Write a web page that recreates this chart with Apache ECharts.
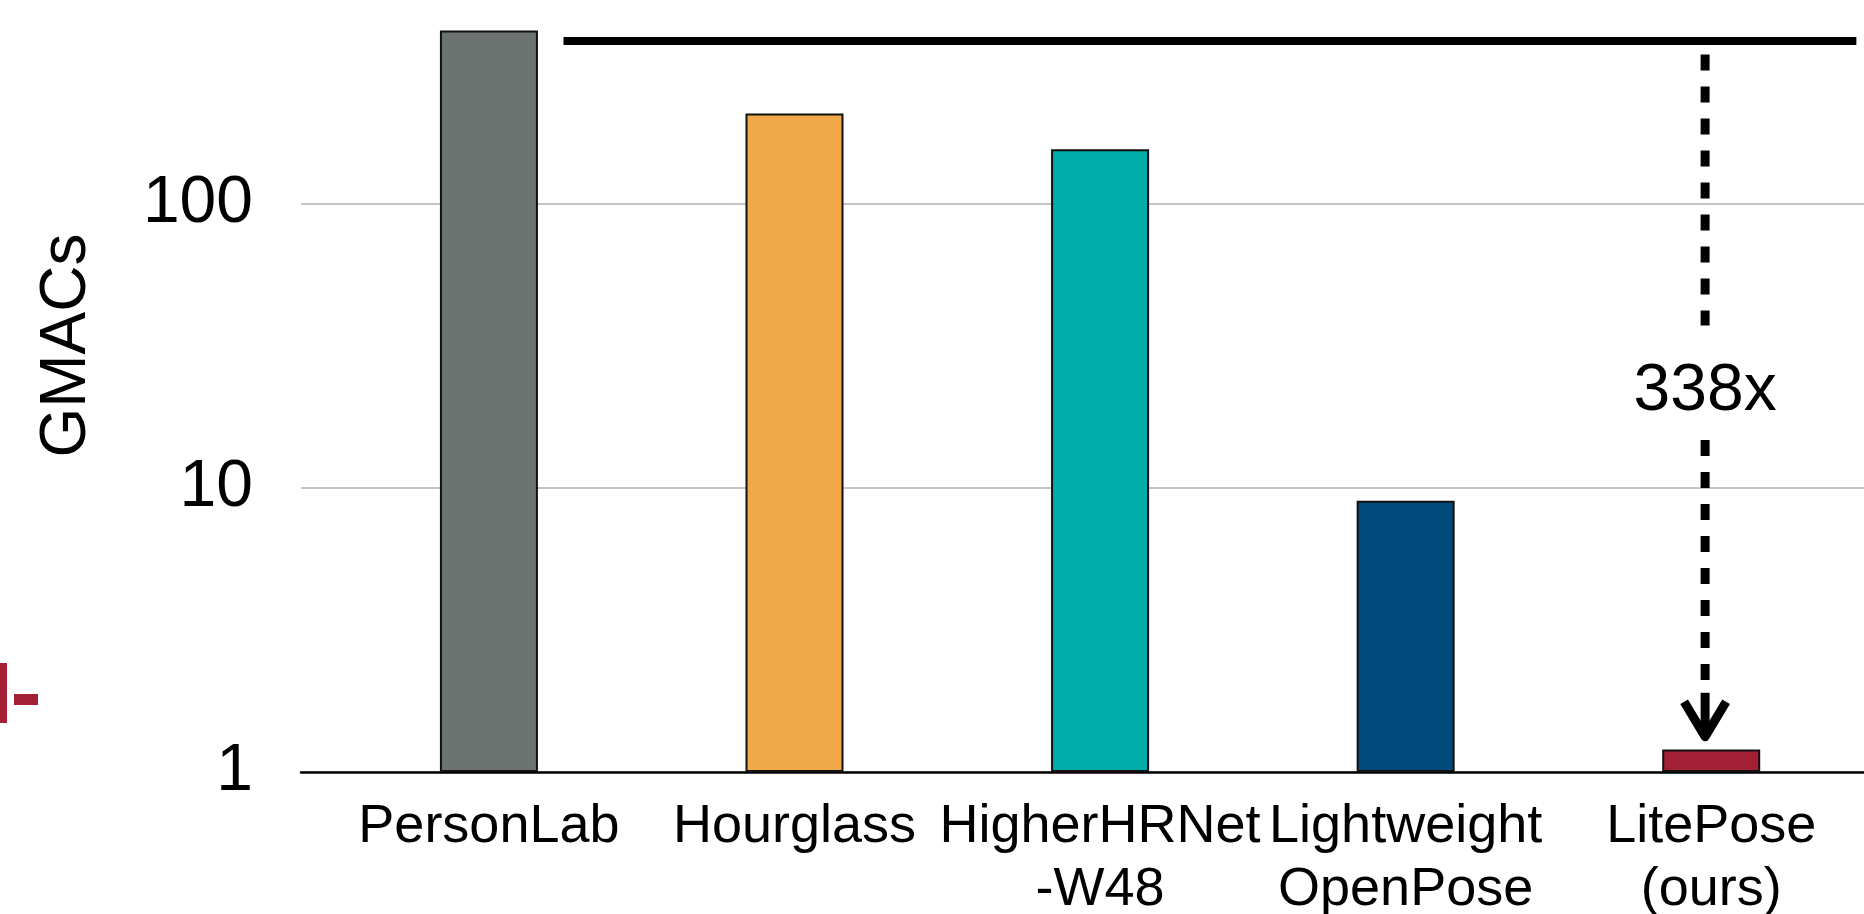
<!DOCTYPE html>
<html>
<head>
<meta charset="utf-8">
<script src="https://cdn.jsdelivr.net/npm/echarts@6/dist/echarts.min.js"></script>
<style>
  html, body { margin: 0; padding: 0; background: #fff; }
  #chart { width: 1864px; height: 914px; }
</style>
</head>
<body>
<div id="chart"></div>
<script>
// Model names and their compute cost (GMACs)
const categories = ['PersonLab', 'Hourglass', 'HigherHRNet\n-W48', 'Lightweight\nOpenPose', 'LitePose\n(ours)'];
const gmacs = [405.5, 206.9, 155.1, 9.0, 1.2];
const barColors = ['#6d7370', '#f0a848', '#00adaa', '#004b7c', '#a31f34'];
const speedupLabel = '338x';

// Annotation: horizontal rule at the baseline cost level and a dashed arrow
// pointing down to LitePose (values in axis units)
const ruleLevel = 372;
const ruleFrom = 0.244;
const ruleTo = 4.475;
const arrowX = 3.98;
const arrowTop = 334;
const arrowTip = 1.33;
const labelGapTop = 37.2;
const labelGapBottom = 14.7;
const labelLevel = 21.8;

const FONT = '"Liberation Sans", Arial, Helvetica, sans-serif';

const chart = echarts.init(document.getElementById('chart'), null, { renderer: 'canvas' });

const option = {
  backgroundColor: '#ffffff',
  animation: false,
  grid: { left: 301, right: 0, top: -81, bottom: 142, containLabel: false, outerBoundsMode: 'none' },
  xAxis: {
    type: 'value',
    min: -0.615,
    max: 4.5,
    axisLine: { show: true, onZero: false, lineStyle: { color: '#000', width: 2.5 } },
    axisTick: { show: false },
    splitLine: { show: false },
    axisLabel: {
      customValues: categories.map((_, i) => i),
      formatter: (v) => categories[Math.round(v)] || '',
      color: '#000',
      fontFamily: FONT,
      fontSize: 54,
      lineHeight: 63,
      margin: 24
    }
  },
  yAxis: {
    type: 'log',
    logBase: 10,
    min: 1,
    max: 1000,
    name: 'GMACs',
    nameLocation: 'middle',
    nameRotate: 90,
    nameGap: 202,
    nameMoveOverlap: false,
    nameTextStyle: { color: '#000', fontFamily: FONT, fontSize: 64 },
    axisLine: { show: false },
    axisTick: { show: false },
    axisLabel: { color: '#000', fontFamily: FONT, fontSize: 66, margin: 48 },
    splitLine: { show: true, lineStyle: { color: '#c4c4c4', width: 2 } }
  },
  graphic: [
    { type: 'rect', shape: { x: 0, y: 663, width: 7, height: 60 }, style: { fill: '#a31f34' } },
    { type: 'rect', shape: { x: 14, y: 694, width: 24, height: 11 }, style: { fill: '#a31f34' } }
  ],
  series: [
    {
      type: 'bar',
      barWidth: 98,
      data: gmacs.map((v, i) => ({
        value: [i, v],
        itemStyle: { color: barColors[i], borderColor: '#111', borderWidth: 2 }
      }))
    },
    {
      type: 'custom',
      clip: false,
      z: 5,
      data: [[arrowX, arrowTip]],
      renderItem: function (params, api) {
        const r1 = api.coord([ruleFrom, ruleLevel]);
        const r2 = api.coord([ruleTo, ruleLevel]);
        const top = api.coord([arrowX, arrowTop]);
        const g1 = api.coord([arrowX, labelGapTop]);
        const g2 = api.coord([arrowX, labelGapBottom]);
        const tip = api.coord([arrowX, arrowTip]);
        const lab = api.coord([arrowX, labelLevel]);
        const x = top[0];
        const headH = 35, headW = 21;
        return {
          type: 'group',
          children: [
            { type: 'line', shape: { x1: r1[0], y1: r1[1], x2: r2[0], y2: r2[1] },
              style: { stroke: '#000', lineWidth: 8 } },
            { type: 'line', shape: { x1: x, y1: top[1], x2: x, y2: g1[1] },
              style: { stroke: '#000', lineWidth: 9, lineDash: [16, 16] } },
            { type: 'line', shape: { x1: x, y1: g2[1], x2: x, y2: tip[1] - 44 },
              style: { stroke: '#000', lineWidth: 9, lineDash: [16, 16] } },
            { type: 'line', shape: { x1: x, y1: tip[1] - 44, x2: x, y2: tip[1] - 4 },
              style: { stroke: '#000', lineWidth: 9 } },
            { type: 'polyline',
              shape: { points: [[x - headW, tip[1] - headH], [x, tip[1]], [x + headW, tip[1] - headH]] },
              style: { stroke: '#000', fill: null, lineWidth: 9, lineJoin: 'round', lineCap: 'butt' } },
            { type: 'text', x: x, y: lab[1],
              style: { text: speedupLabel, fill: '#000', font: '66px ' + FONT,
                       align: 'center', verticalAlign: 'middle' } }
          ]
        };
      }
    }
  ]
};

chart.setOption(option);
</script>
</body>
</html>
